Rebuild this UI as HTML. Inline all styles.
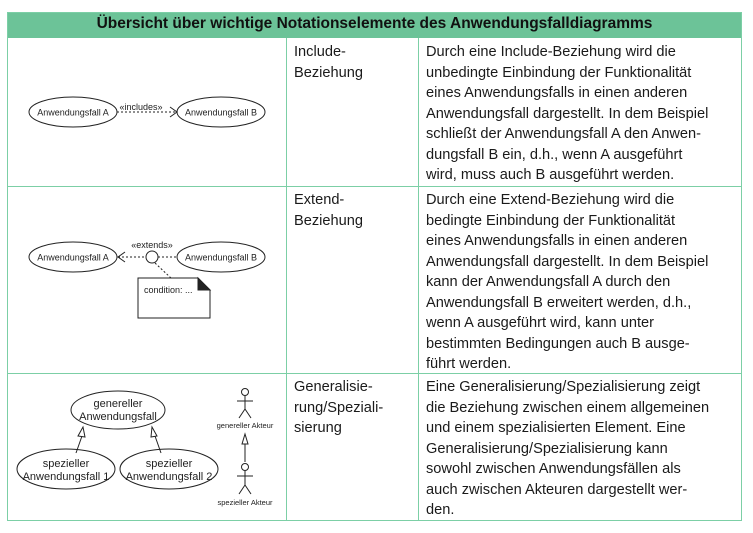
<!DOCTYPE html>
<html><head><meta charset="utf-8"><style>
body{margin:0;width:753px;height:533px;background:#fff;position:relative;font-family:"Liberation Sans",sans-serif;color:#1a1a1a;overflow:hidden}
.t{position:absolute;font-size:14.6px;line-height:20.5px;white-space:nowrap}
.b{position:absolute;background:#7ccfa6}
</style></head><body>
<div style="position:absolute;left:7px;top:12px;width:735px;height:26px;background:#6cc398"></div>
<div style="position:absolute;left:7px;top:15px;width:735px;text-align:center;font-weight:bold;font-size:15.5px;color:#111">Übersicht über wichtige Notationselemente des Anwendungsfalldiagramms</div>
<div class="b" style="left:7px;top:12px;width:1px;height:509px"></div>
<div class="b" style="left:741px;top:12px;width:1px;height:509px"></div>
<div class="b" style="left:7px;top:12px;width:735px;height:1px"></div>
<div class="b" style="left:7px;top:520px;width:735px;height:1px"></div>
<div class="b" style="left:7px;top:186px;width:735px;height:1px"></div>
<div class="b" style="left:7px;top:373px;width:735px;height:1px"></div>
<div class="b" style="left:286px;top:38px;width:1px;height:483px"></div>
<div class="b" style="left:418px;top:38px;width:1px;height:483px"></div>

<div class="t" style="left:294px;top:42px">Include-<br>Beziehung</div>
<div class="t" style="left:426px;top:42px">Durch eine Include-Beziehung wird die<br>unbedingte Einbindung der Funktionalität<br>eines Anwendungsfalls in einen anderen<br>Anwendungsfall dargestellt. In dem Beispiel<br>schließt der Anwendungsfall A den Anwen-<br>dungsfall B ein, d.h., wenn A ausgeführt<br>wird, muss auch B ausgeführt werden.</div>
<div class="t" style="left:294px;top:190px">Extend-<br>Beziehung</div>
<div class="t" style="left:426px;top:190px">Durch eine Extend-Beziehung wird die<br>bedingte Einbindung der Funktionalität<br>eines Anwendungsfalls in einen anderen<br>Anwendungsfall dargestellt. In dem Beispiel<br>kann der Anwendungsfall A durch den<br>Anwendungsfall B erweitert werden, d.h.,<br>wenn A ausgeführt wird, kann unter<br>bestimmten Bedingungen auch B ausge-<br>führt werden.</div>
<div class="t" style="left:294px;top:377px">Generalisie-<br>rung/Speziali-<br>sierung</div>
<div class="t" style="left:426px;top:377px">Eine Generalisierung/Spezialisierung zeigt<br>die Beziehung zwischen einem allgemeinen<br>und einem spezialisierten Element. Eine<br>Generalisierung/Spezialisierung kann<br>sowohl zwischen Anwendungsfällen als<br>auch zwischen Akteuren dargestellt wer-<br>den.</div>

<svg style="position:absolute;left:0;top:0" width="753" height="533" font-family="Liberation Sans, sans-serif" fill="none" stroke="#222" stroke-width="1">
<!-- include -->
<ellipse cx="73" cy="112" rx="44" ry="15"/>
<text x="73" y="115.5" font-size="9" fill="#222" stroke="none" text-anchor="middle">Anwendungsfall A</text>
<ellipse cx="221" cy="112" rx="44" ry="15"/>
<text x="221" y="115.5" font-size="9" fill="#222" stroke="none" text-anchor="middle">Anwendungsfall B</text>
<line x1="117" y1="112" x2="176" y2="112" stroke-dasharray="2,2"/>
<polyline points="170,107 177,112 170,117"/>
<text x="141" y="110" font-size="9" fill="#222" stroke="none" text-anchor="middle">«includes»</text>
<!-- extend -->
<ellipse cx="73" cy="257" rx="44" ry="15"/>
<text x="73" y="260.5" font-size="9" fill="#222" stroke="none" text-anchor="middle">Anwendungsfall A</text>
<ellipse cx="221" cy="257" rx="44" ry="15"/>
<text x="221" y="260.5" font-size="9" fill="#222" stroke="none" text-anchor="middle">Anwendungsfall B</text>
<line x1="118" y1="257" x2="146" y2="257" stroke-dasharray="2,2"/>
<line x1="158" y1="257" x2="177" y2="257" stroke-dasharray="2,2"/>
<polyline points="125,252 118,257 125,262"/>
<circle cx="152" cy="257" r="6"/>
<text x="152" y="248" font-size="9" fill="#222" stroke="none" text-anchor="middle">«extends»</text>
<line x1="155" y1="263" x2="171" y2="278" stroke-dasharray="2,2"/>
<path d="M138,278 H198 L210,290 V318 H138 Z"/>
<path d="M198,278 L210,290 H198 Z" fill="#222"/>
<text x="144" y="293" font-size="9" fill="#222" stroke="none">condition: ...</text>
<!-- generalization -->
<ellipse cx="118" cy="410" rx="47" ry="19"/>
<text x="118" y="407" font-size="11" fill="#222" stroke="none" text-anchor="middle">genereller</text>
<text x="118" y="420" font-size="11" fill="#222" stroke="none" text-anchor="middle">Anwendungsfall</text>
<ellipse cx="66" cy="469" rx="49" ry="20"/>
<text x="66" y="467" font-size="11" fill="#222" stroke="none" text-anchor="middle">spezieller</text>
<text x="66" y="480" font-size="11" fill="#222" stroke="none" text-anchor="middle">Anwendungsfall 1</text>
<ellipse cx="169" cy="469" rx="49" ry="20"/>
<text x="169" y="467" font-size="11" fill="#222" stroke="none" text-anchor="middle">spezieller</text>
<text x="169" y="480" font-size="11" fill="#222" stroke="none" text-anchor="middle">Anwendungsfall 2</text>
<line x1="76" y1="453" x2="82" y2="436"/>
<polygon points="83,427 78,436 85,437" fill="#fff"/>
<line x1="161" y1="453" x2="155" y2="436"/>
<polygon points="152,427 151,437 157,436" fill="#fff"/>
<!-- actors -->
<circle cx="245" cy="392" r="3.5"/>
<line x1="245" y1="396" x2="245" y2="409"/><line x1="237" y1="401" x2="253" y2="401"/>
<polyline points="239,418 245,409 251,418"/>
<text x="245" y="428" font-size="7.5" fill="#222" stroke="none" text-anchor="middle">genereller Akteur</text>
<line x1="245" y1="444" x2="245" y2="462"/>
<polygon points="245,434 242,444 248,444" fill="#fff"/>
<circle cx="245" cy="467" r="3.5"/>
<line x1="245" y1="471" x2="245" y2="485"/><line x1="237" y1="476" x2="253" y2="476"/>
<polyline points="239,494 245,485 251,494"/>
<text x="245" y="505" font-size="7.5" fill="#222" stroke="none" text-anchor="middle">spezieller Akteur</text>
</svg>
</body></html>
